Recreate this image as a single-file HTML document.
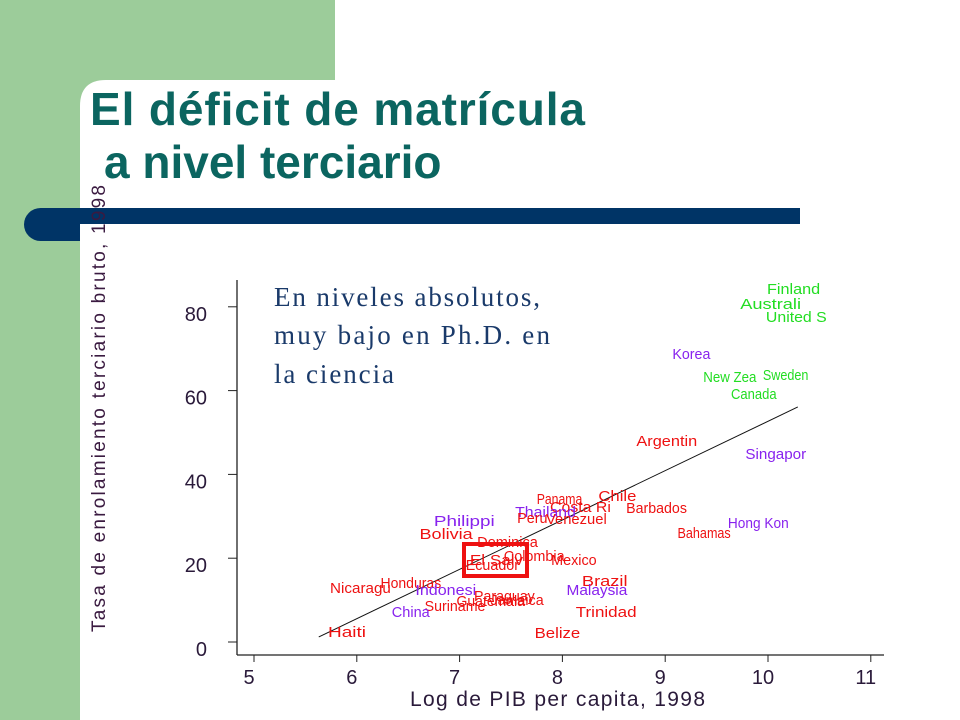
<!DOCTYPE html>
<html><head><meta charset="utf-8"><style>
html,body{margin:0;padding:0;width:960px;height:720px;overflow:hidden;background:#fff;font-family:"Liberation Sans",sans-serif}
svg{display:block}
</style></head><body>
<svg id="chart" width="960" height="720" viewBox="0 0 960 720">
  <rect x="0" y="0" width="80" height="720" fill="#9ccc9a"/>
  <rect x="0" y="0" width="335" height="80" fill="#9ccc9a"/>
  <rect x="80" y="80" width="260" height="60" fill="#9ccc9a"/>
  <path d="M80 720 L80 106 Q80 80 106 80 L960 80 L960 720 Z" fill="#fff"/>
  <rect x="335" y="0" width="625" height="80" fill="#fff"/>
  <text x="90" y="125" font-size="46" font-weight="bold" fill="#0b6560" textLength="495">El déficit de matrícula</text>
  <text x="104" y="178" font-size="46" font-weight="bold" fill="#0b6560">a nivel terciario</text>
  <rect x="24" y="208" width="90" height="33" rx="16.5" fill="#003466"/>
  <rect x="60" y="208" width="740" height="16" fill="#003466"/>
  <rect x="80" y="224" width="40" height="30" fill="#fff"/>
  <text transform="translate(105,632) rotate(-90)" font-size="19" fill="#3a1a40" textLength="447">Tasa de enrolamiento terciario bruto, 1998</text>
  <text x="410" y="706" font-size="21" fill="#2a1a3a" textLength="295">Log de PIB per capita, 1998</text>
  <g id="axes"></g>
  <g id="marks"></g>
  <text font-family="Liberation Serif, serif" font-size="27" fill="#1a3a6a">
    <tspan x="274" y="306" textLength="266">En niveles absolutos,</tspan>
    <tspan x="274" y="344" textLength="276">muy bajo en Ph.D. en</tspan>
    <tspan x="274" y="383" textLength="120">la ciencia</tspan>
  </text>
  <rect x="464" y="544" width="63" height="32" fill="none" stroke="#ee1111" stroke-width="4"/>
</svg>
<script>
const xTicks=[5,6,7,8,9,10,11];
const yTicks=[0,20,40,60,80];
const countries=["Finland","Australi","United S","Korea","New Zea","Sweden","Canada","Argentin","Singapor","Panama","Chile","Costa Ri","Barbados","Thailand","Peru","Venezuel","Hong Kon","Bahamas","Philippi","Bolivia","Dominica","Colombia","El Salv","Ecuador","Mexico","Brazil","Malaysia","Honduras","Nicaragu","Indonesi","Paraguay","Guatemala","Jamaica","Suriname","China","Trinidad","Haiti","Belize"];
const logGdp=[9.99,9.73,9.98,9.07,9.37,9.95,9.64,8.72,9.78,7.75,8.35,7.88,8.62,7.54,7.56,7.84,9.61,9.12,6.75,6.61,7.17,7.43,7.10,7.06,7.89,8.19,8.04,6.23,5.74,6.57,7.14,6.97,7.30,6.66,6.34,8.13,5.72,7.73];
const enrol=[84.2,80.7,77.6,68.7,63.2,63.7,59.2,48.0,44.9,34.1,34.8,32.2,32.0,31.0,29.6,29.4,28.4,26.0,28.9,25.8,23.9,20.5,19.6,18.4,19.6,14.6,12.4,14.1,12.9,12.4,11.0,9.8,10.0,8.6,7.2,7.2,2.4,2.1];
const region=["g","g","g","p","g","g","g","r","p","r","r","r","r","p","r","r","p","r","p","r","r","r","r","r","r","r","p","r","r","p","r","r","r","r","p","r","r","r"];
const fitX=[5.63,10.29];
const fitY=[1.2,56.1];
const colors={g:"#22dd22",p:"#8822ee",r:"#ee1111"};
const X=v=>254+(v-5)*102.8;
const Y=v=>642-v*4.19;
const NS="http://www.w3.org/2000/svg";
const axes=document.getElementById('axes'),marks=document.getElementById('marks');
function mk(tag,attrs,parent){const e=document.createElementNS(NS,tag);for(const k in attrs)e.setAttribute(k,attrs[k]);parent.appendChild(e);return e;}
let l=mk('line',{x1:237,y1:280,x2:237,y2:655,stroke:'#222','stroke-width':1.3},axes);


l=mk('line',{x1:237,y1:655,x2:884,y2:655,stroke:'#222','stroke-width':1.3},axes);


xTicks.forEach(t=>{
  const tk=mk('line',{x1:X(t),y1:655,x2:X(t),y2:662,stroke:'#222'},axes);
  
  
  const tx=mk('text',{x:X(t)-5,y:684,'font-size':20,fill:'#2a1a3a','text-anchor':'middle'},axes);
  tx.textContent=t;
  
  
});
yTicks.forEach(t=>{
  const tk=mk('line',{x1:228,y1:Y(t),x2:237,y2:Y(t),stroke:'#222'},axes);
  
  
  const tx=mk('text',{x:207,y:Y(t)+14,'font-size':20,fill:'#2a1a3a','text-anchor':'end'},axes);
  tx.textContent=t;
  
  
});
const fl=mk('line',{x1:X(fitX[0]),y1:Y(fitY[0]),x2:X(fitX[1]),y2:Y(fitY[1]),stroke:'#111','stroke-width':1},marks);


countries.forEach((c,i)=>{
  const t=mk('text',{x:X(logGdp[i]),y:Y(enrol[i])+5,'font-size':15,fill:colors[region[i]],textLength:c.length*7.6,lengthAdjust:'spacingAndGlyphs'},marks);
  t.textContent=c;
  
  
});
</script>
</body></html>
